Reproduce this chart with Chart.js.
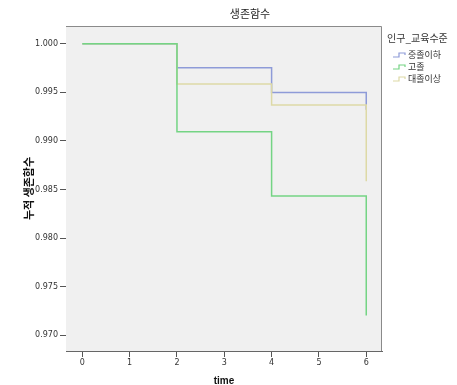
<!DOCTYPE html>
<html>
<head>
<meta charset="utf-8">
<script src="https://cdn.jsdelivr.net/npm/chart.js@4.4.0/dist/chart.umd.min.js"></script>
<style>
  html, body { margin: 0; padding: 0; background: #fff; }
  #wrap { width: 457px; height: 385px; }
</style>
</head>
<body>
<div id="wrap"><canvas id="myChart" width="457" height="385"></canvas></div>
<script>
// données
const categories = ['중졸이하', '고졸', '대졸이상'];
const times = [0, 2, 4, 6];
const survLow = [1, 0.99753, 0.99499, 0.9932];
const survHigh = [1, 0.99093, 0.98433, 0.97203];
const survCollege = [1, 0.99585, 0.9937, 0.98585];
const xTicks = [0, 1, 2, 3, 4, 5, 6];
const yTicks = [0.970, 0.975, 0.980, 0.985, 0.990, 0.995, 1.000];

const colors = ['#8e9bd8', '#74d484', '#ddd9a6'];
const KR = '"Noto Sans CJK KR", "Noto Sans", sans-serif';

function points(vals) {
    return times.map((t, i) => ({ x: t, y: vals[i] }));
}

// fond gris + cadre, titre et légende
const decor = {
    id: 'decor',
    beforeDatasetsDraw(chart) {
        const { ctx, chartArea: a } = chart;
        ctx.save();
        ctx.fillStyle = '#f0f0f0';
        ctx.fillRect(a.left, a.top, a.right - a.left, a.bottom - a.top);
        ctx.restore();
    },
    afterDraw(chart) {
        const { ctx, chartArea: a } = chart;
        ctx.save();
        ctx.strokeStyle = '#8a8a8a';
        ctx.lineWidth = 1;
        ctx.beginPath();
        ctx.moveTo(a.left, a.top + 0.5);
        ctx.lineTo(a.right - 0.5, a.top + 0.5);
        ctx.lineTo(a.right - 0.5, a.bottom);
        ctx.stroke();

        // titre
        ctx.fillStyle = '#222';
        ctx.font = '11px ' + KR;
        ctx.textAlign = 'center';
        ctx.textBaseline = 'middle';
        ctx.fillText('생존함수', 250, 14);

        // légende
        ctx.textAlign = 'left';
        ctx.fillStyle = '#333';
        ctx.font = '10px ' + KR;
        ctx.fillText('인구_교육수준', 387, 38);
        ctx.font = '9px ' + KR;
        chart.data.datasets.forEach((ds, i) => {
            const y = 55 + i * 12;
            ctx.strokeStyle = ds.borderColor;
            ctx.lineWidth = 1.2;
            ctx.beginPath();
            ctx.moveTo(393, y + 2);
            ctx.lineTo(399, y + 2);
            ctx.lineTo(399, y - 2);
            ctx.lineTo(405, y - 2);
            ctx.lineTo(405, y);
            ctx.stroke();
            ctx.fillText(ds.label, 408, y);
        });
        ctx.restore();
    }
};

const ctx = document.getElementById('myChart').getContext('2d');
const myChart = new Chart(ctx, {
    type: 'line',
    data: {
        datasets: [
            { label: categories[0], data: points(survLow), borderColor: colors[0], order: 2 },
            { label: categories[1], data: points(survHigh), borderColor: colors[1], order: 0 },
            { label: categories[2], data: points(survCollege), borderColor: colors[2], order: 1 }
        ].map(d => Object.assign(d, {
            stepped: true,
            borderWidth: 1.5,
            pointRadius: 0,
            fill: false
        }))
    },
    options: {
        responsive: false,
        animation: false,
        layout: { padding: { left: 0, top: 26, right: 75, bottom: 0 } },
        plugins: {
            legend: { display: false },
            tooltip: { enabled: false }
        },
        scales: {
            x: {
                type: 'linear',
                min: -0.345,
                max: 6.333,
                afterFit: s => { s.height = 34; },
                afterBuildTicks: s => { s.ticks = xTicks.map(v => ({ value: v })); },
                grid: { drawOnChartArea: false, drawTicks: true, tickLength: 6, color: '#555' },
                border: { color: '#666' },
                ticks: {
                    padding: 1,
                    maxRotation: 0,
                    color: '#333',
                    font: { family: 'DejaVu Sans', size: 8 }
                },
                title: {
                    display: true,
                    text: 'time',
                    color: '#111',
                    padding: { top: 0, bottom: -2 },
                    font: { family: 'Liberation Sans', size: 10, weight: 'bold' }
                }
            },
            y: {
                min: 0.96838,
                max: 1.00182,
                afterFit: s => { s.width = 66; },
                afterBuildTicks: s => { s.ticks = yTicks.map(v => ({ value: v })); },
                grid: { drawOnChartArea: false, drawTicks: true, tickLength: 6, color: '#555' },
                border: { color: '#666' },
                ticks: {
                    padding: 2,
                    color: '#333',
                    font: { family: 'DejaVu Sans', size: 8 },
                    callback: v => v.toFixed(3)
                },
                title: {
                    display: true,
                    text: '누적 생존함수',
                    color: '#111',
                    padding: { top: 22, bottom: 0 },
                    font: { family: KR, size: 11, weight: 'bold' }
                }
            }
        }
    },
    plugins: [decor]
});
</script>
</body>
</html>
